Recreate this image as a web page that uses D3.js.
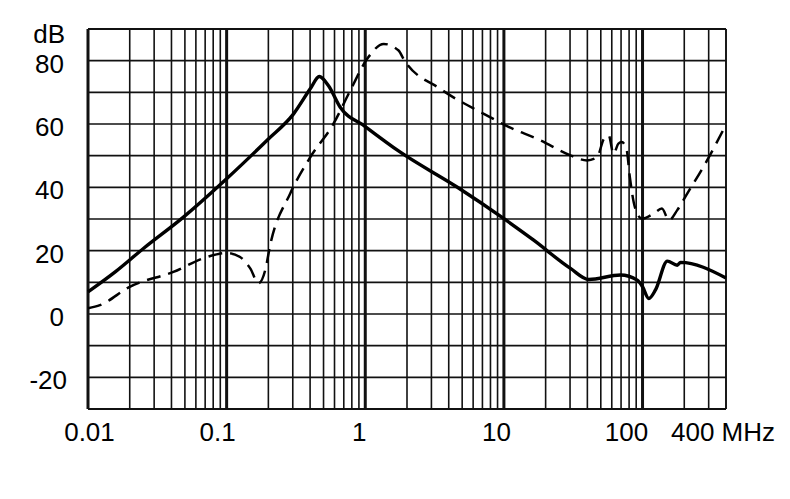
<!DOCTYPE html>
<html>
<head>
<meta charset="utf-8">
<script src="https://cdn.jsdelivr.net/npm/d3@7"></script>
<style>
  html, body { margin: 0; padding: 0; background: #fff; }
  svg { display: block; font-family: Arial, "Liberation Sans", sans-serif; }
</style>
</head>
<body>
<svg id="chart" width="790" height="499"></svg>
<script>
// ---- data ----
const xTickValues = [0.01, 0.1, 1, 10, 100, 400];
const xTickLabels = ["0.01", "0.1", "1", "10", "100", "400 MHz"];
const yTickValues = [-20, 0, 20, 40, 60, 80];
const yUnitLabel = "dB";

// solid curve: frequency (MHz) / attenuation (dB)
const solidFreq = [0.01, 0.0158, 0.0251, 0.0488, 0.1, 0.195, 0.304, 0.401, 0.466, 0.543, 0.66, 1.0, 1.79, 4.59, 10, 16.4, 30.2, 41, 69.4, 91.6, 100, 111, 124, 151, 178, 188, 400];
const solidDb   = [7.0, 13.4, 20.7, 30.6, 42.7, 54.8, 63.2, 71.1, 75.0, 72.1, 65.3, 59.2, 51.1, 40.1, 30.1, 23.3, 14.4, 10.9, 12.3, 10.7, 8.6, 4.9, 7.6, 16.7, 15.4, 16.3, 11.4];

// dashed curve
const dashFreq = [0.01, 0.0122, 0.02, 0.0413, 0.072, 0.1, 0.125, 0.148, 0.17, 0.19, 0.206, 0.287, 0.401, 0.59, 0.78, 1.03, 1.36, 1.74, 1.89, 3.48, 8.0, 10, 18.4, 30.2, 39.8, 47, 52.6, 57, 61.7, 67, 70.8, 76.9, 81, 88, 98.7, 120, 138, 155, 178, 210, 292, 400];
const dashDb   = [1.8, 2.8, 8.6, 13.3, 18.0, 19.3, 18.0, 14.4, 9.7, 13.9, 21.7, 38.0, 49.5, 60.1, 70.6, 80.5, 85.3, 83.2, 80.5, 71.1, 62.1, 59.8, 54.8, 50.1, 48.5, 49.5, 55.3, 56.4, 50.6, 53.8, 54.3, 51.7, 43.2, 33.8, 30.1, 31.7, 33.3, 29.6, 32.8, 38.0, 48.5, 59.8];

// ---- layout ----
const svg = d3.select("#chart");
const plotLeft = 88, plotRight = 726, plotTop = 29, plotBottom = 409;
const fontSize = 26;

const x = d3.scaleLog().domain([0.01, 400]).range([plotLeft, plotRight]);
const y = d3.scaleLinear().domain([-30, 90]).range([plotBottom, plotTop]);

const g = svg.append("g");

// horizontal grid lines every 10 dB
const hLines = d3.range(-30, 91, 10);
g.selectAll("line.h").data(hLines).enter().append("line")
  .attr("x1", plotLeft).attr("x2", plotRight)
  .attr("y1", d => y(d)).attr("y2", d => y(d))
  .attr("stroke", "#111").attr("stroke-width", d => (d === 90 || d === -30) ? 2 : 1.6);

// vertical grid lines (log decades)
const vLines = [];
for (let e = -2; e <= 2; e++) {
  for (let m = 1; m <= 9; m++) {
    const v = m * Math.pow(10, e);
    if (v >= 0.01 && v <= 400.0001) vLines.push({ v: v, major: m === 1 });
  }
}
vLines.push({ v: 400, major: false });
g.selectAll("line.v").data(vLines).enter().append("line")
  .attr("x1", d => x(d.v)).attr("x2", d => x(d.v))
  .attr("y1", plotTop).attr("y2", plotBottom)
  .attr("stroke", "#111")
  .attr("stroke-width", d => d.major ? 3 : 1.6);

// curves
const lineGen = d3.line()
  .x(d => x(d[0])).y(d => y(d[1]))
  .curve(d3.curveMonotoneX);

const dashData = dashFreq.map((f, i) => [f, dashDb[i]]);
const solidData = solidFreq.map((f, i) => [f, solidDb[i]]);

g.append("path").datum(dashData)
  .attr("d", lineGen)
  .attr("fill", "none").attr("stroke", "#000")
  .attr("stroke-width", 2.5)
  .attr("stroke-dasharray", "14,8");

g.append("path").datum(solidData)
  .attr("d", lineGen)
  .attr("fill", "none").attr("stroke", "#000")
  .attr("stroke-width", 3.4)
  .attr("stroke-linejoin", "round");

// y labels
g.selectAll("text.y").data(yTickValues).enter().append("text")
  .attr("x", d => d === -20 ? 67 : 64)
  .attr("y", d => y(d) + 12)
  .attr("text-anchor", "end")
  .attr("font-size", fontSize)
  .attr("fill", "#000")
  .text(d => d);

g.append("text")
  .attr("x", 65).attr("y", 43)
  .attr("text-anchor", "end")
  .attr("font-size", fontSize)
  .attr("fill", "#000")
  .text(yUnitLabel);

// x labels (offsets per label as in the reference)
const xLabelDx = [1.5, -9, -6, -7.5, -16, -55];
g.selectAll("text.x").data(xTickValues).enter().append("text")
  .attr("x", (d, i) => x(d) + xLabelDx[i])
  .attr("y", 441)
  .attr("text-anchor", (d, i) => i === xTickValues.length - 1 ? "start" : "middle")
  .attr("font-size", fontSize)
  .attr("fill", "#000")
  .text((d, i) => xTickLabels[i]);
</script>
</body>
</html>
